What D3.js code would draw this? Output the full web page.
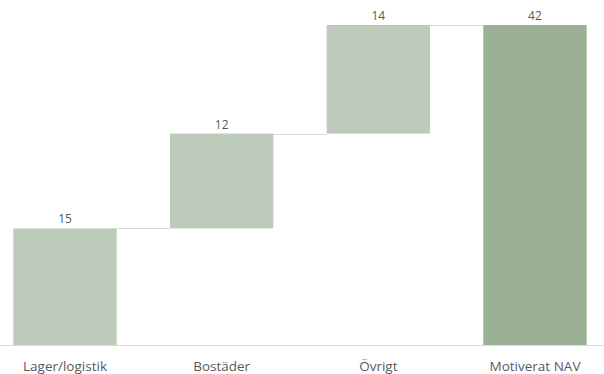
<!DOCTYPE html>
<html>
<head>
<meta charset="utf-8">
<script src="https://cdn.jsdelivr.net/npm/d3@7"></script>
<style>
  html, body { margin: 0; padding: 0; background: #fff; }
  text { font-family: "Open Sans", "Liberation Sans", sans-serif; }
</style>
</head>
<body>
<svg id="chart" width="604" height="374"></svg>
<script>
// Waterfall: contributions to the motivated NAV (labels shown rounded)
const categories = ["Lager/logistik", "Bostäder", "Övrigt", "Motiverat NAV"];
const values = [15.3, 12.45, 14.25, 42];
const isTotal = [false, false, false, true];

const svg = d3.select("#chart");
const baseY = 345, topY = 25;
const fmt = d3.format(".0f");

const x = d3.scaleBand().domain(categories).range([0, 600])
  .paddingInner(0.34).paddingOuter(0.085);
const y = d3.scaleLinear().domain([0, 42]).range([baseY, topY]);

// running start/end for each step
let run = 0;
const steps = categories.map((c, i) => {
  let start, end;
  if (isTotal[i]) { start = 0; end = values[i]; run = values[i]; }
  else { start = run; end = run + values[i]; run = end; }
  return { c, v: values[i], start, end, total: isTotal[i] };
});

// baseline
svg.append("line").attr("x1", 0).attr("x2", 604)
  .attr("y1", baseY + 0.5).attr("y2", baseY + 0.5)
  .attr("stroke", "#d9d9d9").attr("stroke-width", 1);

// connectors between consecutive bars
steps.slice(0, -1).forEach((s, i) => {
  const yy = Math.round(y(s.end)) + 0.5;
  svg.append("line")
    .attr("x1", x(s.c) + x.bandwidth()).attr("x2", x(categories[i + 1]))
    .attr("y1", yy).attr("y2", yy)
    .attr("stroke", "#d9d9d9").attr("stroke-width", 1);
});

svg.selectAll("rect.bar").data(steps).join("rect")
  .attr("class", "bar")
  .attr("x", d => x(d.c))
  .attr("width", x.bandwidth())
  .attr("y", d => y(d.end))
  .attr("height", d => y(d.start) - y(d.end))
  .attr("fill", d => d.total ? "#9bb196" : "#bdcbba");

svg.selectAll("text.val").data(steps).join("text")
  .attr("class", "val")
  .attr("x", d => x(d.c) + x.bandwidth() / 2)
  .attr("y", d => y(d.end) - 5)
  .attr("text-anchor", "middle")
  .attr("font-size", 12)
  .attr("fill", "#595959")
  .text(d => fmt(d.v));

svg.selectAll("text.cat").data(steps).join("text")
  .attr("class", "cat")
  .attr("x", d => x(d.c) + x.bandwidth() / 2)
  .attr("y", 371)
  .attr("text-anchor", "middle")
  .attr("font-size", 13.5)
  .attr("fill", "#595959")
  .text(d => d.c);
</script>
</body>
</html>
